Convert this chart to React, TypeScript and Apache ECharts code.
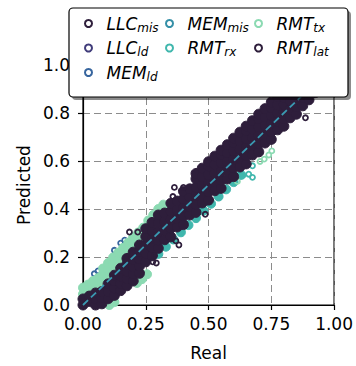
import React, { useEffect, useRef } from 'react';
import * as echarts from 'echarts';

const FONT = 'DejaVu Sans';

const seriesNames = ['LLC_mis', 'LLC_ld', 'MEM_ld', 'MEM_mis', 'RMT_rx', 'RMT_tx', 'RMT_lat'];
const legendColumns = [['LLC_mis', 'LLC_ld', 'MEM_ld'], ['MEM_mis', 'RMT_rx'], ['RMT_tx', 'RMT_lat']];

const xMin = 0, xMax = 1, xStep = 0.25;
const yMin = 0, yMax = 1, yStep = 0.2;

const refLine = [[0, 0], [1, 1]];

// dense parts of each cloud
const llcMisCloud = [[0.1, 0.07], [0.2, 0.18], [0.3, 0.3], [0.4, 0.4], [0.5, 0.5], [0.6, 0.6], [0.7, 0.7], [0.8, 0.8], [0.9, 0.9]];
const llcLdCloud = [[0.15, 0.13], [0.35, 0.34], [0.55, 0.56], [0.75, 0.74], [0.85, 0.86]];
const memLdCloud = [[0.2, 0.2], [0.45, 0.45], [0.65, 0.65]];
const memMisCloud = [[0.25, 0.25], [0.5, 0.49], [0.7, 0.69], [0.9, 0.89]];
const rmtRxCloud = [[0.3, 0.213], [0.33, 0.243], [0.36, 0.273], [0.39, 0.303], [0.42, 0.333], [0.45, 0.362], [0.48, 0.393], [0.51, 0.422], [0.54, 0.452], [0.57, 0.482], [0.6, 0.512], [0.63, 0.542]];
const rmtTxCloud = [
  [0, 0.045], [0, 0.072], [0.02, 0.055], [0.02, 0.085], [0.04, 0.068], [0.04, 0.1], [0.06, 0.08], [0.06, 0.112],
  [0.08, 0.098], [0.08, 0.13], [0.08, 0.152], [0.1, 0.115], [0.1, 0.148], [0.1, 0.175], [0.12, 0.138], [0.12, 0.17], [0.12, 0.198],
  [0.14, 0.16], [0.14, 0.19], [0.14, 0.218], [0.16, 0.182], [0.16, 0.212], [0.16, 0.238], [0.18, 0.205], [0.18, 0.235], [0.18, 0.26],
  [0.2, 0.228], [0.2, 0.258], [0.2, 0.283], [0.22, 0.252], [0.22, 0.28], [0.22, 0.302], [0.24, 0.276], [0.24, 0.302], [0.24, 0.322],
  [0.26, 0.325], [0.26, 0.352], [0.28, 0.35], [0.28, 0.375], [0.3, 0.375], [0.3, 0.4], [0.32, 0.4], [0.32, 0.418],
  [0.06, -0.012], [0.085, -0.006], [0.105, 0.0], [0.125, 0.012], [0.215, 0.092], [0.235, 0.108], [0.255, 0.128],
];
const rmtLatCloud = [
  [0, 0.0], [0, 0.025],
  [0.025, -0.008], [0.025, 0.015], [0.025, 0.037],
  [0.05, 0.0], [0.05, 0.026], [0.05, 0.05],
  [0.075, 0.005], [0.075, 0.03], [0.075, 0.056],
  [0.1, 0.026], [0.1, 0.057], [0.1, 0.088],
  [0.125, 0.04], [0.125, 0.07], [0.125, 0.1], [0.125, 0.124],
  [0.15, 0.06], [0.15, 0.09], [0.15, 0.12], [0.15, 0.153],
  [0.175, 0.08], [0.175, 0.11], [0.175, 0.14], [0.175, 0.17], [0.175, 0.194],
  [0.2, 0.1], [0.2, 0.13], [0.2, 0.16], [0.2, 0.19], [0.2, 0.22],
  [0.225, 0.132], [0.225, 0.162], [0.225, 0.192], [0.225, 0.222], [0.225, 0.25],
  [0.25, 0.18], [0.25, 0.215], [0.25, 0.25], [0.25, 0.285], [0.25, 0.318],
  [0.275, 0.205], [0.275, 0.24], [0.275, 0.276], [0.275, 0.31], [0.275, 0.344],
  [0.3, 0.236], [0.3, 0.27], [0.3, 0.304], [0.3, 0.342], [0.3, 0.375],
  [0.325, 0.272], [0.325, 0.31], [0.325, 0.345], [0.325, 0.383],
  [0.35, 0.284], [0.35, 0.32], [0.35, 0.356], [0.35, 0.39], [0.35, 0.424],
  [0.375, 0.325], [0.375, 0.36], [0.375, 0.397], [0.375, 0.433],
  [0.4, 0.335], [0.4, 0.372], [0.4, 0.405], [0.4, 0.442], [0.4, 0.474],
  [0.425, 0.375], [0.425, 0.41], [0.425, 0.448], [0.425, 0.484],
  [0.45, 0.386], [0.45, 0.42], [0.45, 0.457], [0.45, 0.49], [0.45, 0.526], [0.45, 0.548],
  [0.475, 0.425], [0.475, 0.462], [0.475, 0.498], [0.475, 0.535], [0.475, 0.57],
  [0.5, 0.437], [0.5, 0.472], [0.5, 0.508], [0.5, 0.543], [0.5, 0.578], [0.5, 0.597],
  [0.525, 0.476], [0.525, 0.512], [0.525, 0.548], [0.525, 0.585], [0.525, 0.62],
  [0.55, 0.486], [0.55, 0.52], [0.55, 0.556], [0.55, 0.592], [0.55, 0.625], [0.55, 0.645],
  [0.575, 0.525], [0.575, 0.562], [0.575, 0.598], [0.575, 0.634], [0.575, 0.668],
  [0.6, 0.535], [0.6, 0.572], [0.6, 0.607], [0.6, 0.642], [0.6, 0.676], [0.6, 0.695],
  [0.625, 0.575], [0.625, 0.61], [0.625, 0.647], [0.625, 0.683], [0.625, 0.72],
  [0.65, 0.588], [0.65, 0.622], [0.65, 0.656], [0.65, 0.692], [0.65, 0.725], [0.65, 0.745],
  [0.675, 0.625], [0.675, 0.662], [0.675, 0.697], [0.675, 0.733], [0.675, 0.768],
  [0.7, 0.638], [0.7, 0.672], [0.7, 0.706], [0.7, 0.742], [0.7, 0.775], [0.7, 0.795],
  [0.725, 0.675], [0.725, 0.712], [0.725, 0.748], [0.725, 0.783], [0.725, 0.818],
  [0.75, 0.69], [0.75, 0.722], [0.75, 0.756], [0.75, 0.79], [0.75, 0.822], [0.75, 0.845],
  [0.775, 0.73], [0.775, 0.765], [0.775, 0.8], [0.775, 0.835], [0.775, 0.868],
  [0.8, 0.745], [0.8, 0.775], [0.8, 0.805], [0.8, 0.835], [0.8, 0.865], [0.8, 0.895],
  [0.825, 0.78], [0.825, 0.815], [0.825, 0.85], [0.825, 0.885], [0.825, 0.918],
  [0.85, 0.795], [0.85, 0.825], [0.85, 0.855], [0.85, 0.885], [0.85, 0.915], [0.85, 0.945],
  [0.875, 0.83], [0.875, 0.865], [0.875, 0.9], [0.875, 0.935], [0.875, 0.968],
  [0.9, 0.855], [0.9, 0.885], [0.9, 0.915], [0.9, 0.945], [0.9, 0.975], [0.9, 0.995],
  [0.925, 0.885], [0.925, 0.92], [0.925, 0.955], [0.925, 0.99],
  [0.95, 0.93], [0.95, 0.965], [0.95, 1.0],
];

// scattered single points
const llcMisSparse: number[][] = [];
const llcLdSparse: number[][] = [];
const memLdSparse = [[0.045, 0.13], [0.06, 0.142], [0.15, 0.258], [0.166, 0.27], [0.125, 0.228]];
const memMisSparse: number[][] = [];
const rmtRxSparse = [[0.675, 0.532], [0.675, 0.58], [0.635, 0.539], [0.66, 0.545]];
const rmtTxSparse = [[0.705, 0.598], [0.722, 0.608], [0.74, 0.625], [0.752, 0.642], [0.615, 0.515]];
const rmtLatSparse = [
  [0.185, 0.304], [0.218, 0.304], [0.364, 0.49], [0.4, 0.49], [0.358, 0.452], [0.37, 0.267], [0.382, 0.25],
  [0.278, 0.18], [0.292, 0.175], [0.285, 0.206], [0.487, 0.378], [0.886, 0.78],
];

const colors: Record<string, string> = {
  LLC_mis: '#2e1e3b', LLC_ld: '#413d7b', MEM_ld: '#37659e', MEM_mis: '#348fa7',
  RMT_rx: '#40b7ad', RMT_tx: '#8bdab2', RMT_lat: '#2e1e3b',
};
const clouds: Record<string, number[][]> = {
  LLC_mis: llcMisCloud, LLC_ld: llcLdCloud, MEM_ld: memLdCloud, MEM_mis: memMisCloud,
  RMT_rx: rmtRxCloud, RMT_tx: rmtTxCloud, RMT_lat: rmtLatCloud,
};
const sparse: Record<string, number[][]> = {
  LLC_mis: llcMisSparse, LLC_ld: llcLdSparse, MEM_ld: memLdSparse, MEM_mis: memMisSparse,
  RMT_rx: rmtRxSparse, RMT_tx: rmtTxSparse, RMT_lat: rmtLatSparse,
};

function buildSeries(name: string) {
  const c = colors[name];
  const big = name === 'RMT_lat' ? 10 : 9;
  const data = [
    ...clouds[name].map((v) => ({ value: v, symbolSize: big, itemStyle: { color: c, borderColor: c, borderWidth: 1, opacity: 1 } })),
    ...sparse[name].map((v) => ({ value: v })),
  ];
  return {
    type: 'scatter', name, data, symbol: 'circle', symbolSize: 5, clip: true, silent: true, z: 2,
    itemStyle: { color: 'rgba(0,0,0,0)', borderColor: c, borderWidth: 1.8, opacity: 1 },
  };
}

const legendLeft = [84, 165, 254];

export default function App() {
  const ref = useRef<HTMLDivElement>(null);
  useEffect(() => {
    if (!ref.current) return;
    const chart = echarts.init(ref.current, undefined, { renderer: 'svg' });
    const axisText = { fontFamily: FONT, fontSize: 17, color: '#000' };
    const option: any = {
      animation: false,
      backgroundColor: '#fff',
      grid: { left: 83, right: 21, top: 65, bottom: 55, show: true, borderColor: '#000', borderWidth: 1.2, backgroundColor: 'rgba(0,0,0,0)' },
      xAxis: {
        type: 'value', min: xMin, max: xMax, interval: xStep,
        name: 'Real', nameLocation: 'middle', nameGap: 39, nameTextStyle: axisText,
        axisLine: { show: true, onZero: false, lineStyle: { color: '#000', width: 1.2 } },
        axisTick: { show: true, length: 5, lineStyle: { color: '#000', width: 1.2 } },
        axisLabel: { ...axisText, margin: 10, formatter: (v: number) => v.toFixed(2) },
        splitLine: { show: true, lineStyle: { color: '#8c8c8c', type: [7, 4], width: 1 } },
      },
      yAxis: {
        type: 'value', min: yMin, max: yMax, interval: yStep,
        name: 'Predicted', nameLocation: 'middle', nameGap: 48, nameTextStyle: axisText,
        axisLine: { show: true, onZero: false, lineStyle: { color: '#000', width: 1.2 } },
        axisTick: { show: true, length: 5, lineStyle: { color: '#000', width: 1.2 } },
        axisLabel: { ...axisText, margin: 13, formatter: (v: number) => v.toFixed(1) },
        splitLine: { show: true, lineStyle: { color: '#8c8c8c', type: [7, 4], width: 1 } },
      },
      legend: legendColumns.map((col, i) => ({
        orient: 'vertical', left: legendLeft[i], top: 15, padding: 0, itemGap: 6,
        itemWidth: 26, itemHeight: 7, z: 110, selectedMode: false,
        data: col.map((n) => ({ name: n, icon: 'circle', itemStyle: { color: 'rgba(255,255,255,0)', borderColor: colors[n], borderWidth: 2, opacity: 1 } })),
        formatter: (n: string) => {
          const [a, b] = n.split('_');
          return `{m|${a}}{s|${b}}`;
        },
        textStyle: {
          fontFamily: FONT, color: '#000',
          rich: {
            m: { fontFamily: FONT, fontSize: 17, fontStyle: 'italic', color: '#000', lineHeight: 20 },
            s: { fontFamily: FONT, fontSize: 12, fontStyle: 'italic', color: '#000', lineHeight: 11, verticalAlign: 'bottom' },
          },
        },
      })),
      graphic: {
        elements: [
          { type: 'rect', z: 100, silent: true, shape: { x: 72, y: 11, width: 279, height: 89, r: 4 }, style: { fill: 'rgba(0,0,0,0.45)' } },
          { type: 'rect', z: 101, silent: true, shape: { x: 69, y: 8, width: 279, height: 89, r: 4 }, style: { fill: '#fff', stroke: '#000', lineWidth: 1.2 } },
        ],
      },
      series: [
        ...seriesNames.map(buildSeries),
        {
          type: 'line', name: 'ref', data: refLine, symbol: 'none', silent: true, z: 5,
          lineStyle: { color: '#3a9ab2', width: 1.8, type: [7, 4] },
        },
      ],
    };
    chart.setOption(option);
    return () => chart.dispose();
  }, []);
  return <div ref={ref} style={{ position: 'absolute', left: 0, top: 0, width: 356, height: 366 }} />;
}
